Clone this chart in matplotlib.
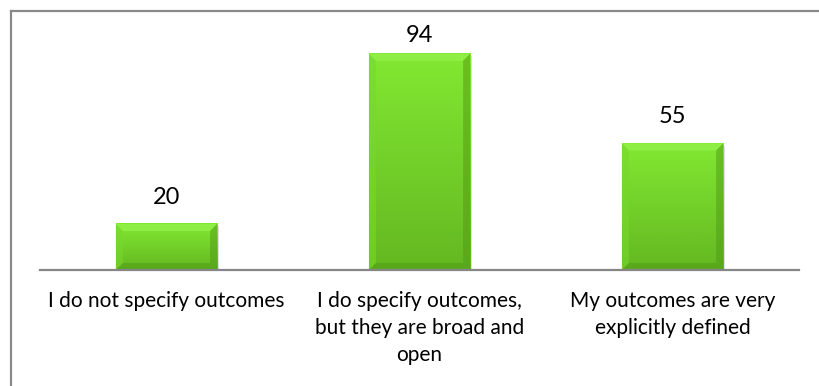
import numpy as np
import matplotlib
matplotlib.use("Agg")
from matplotlib import pyplot as plt
from matplotlib.patches import Polygon
from matplotlib.lines import Line2D
from matplotlib.colors import LinearSegmentedColormap

categories = [
    "I do not specify outcomes",
    "I do specify outcomes,\nbut they are broad and\nopen",
    "My outcomes are very\nexplicitly defined",
]
values = [20, 94, 55]

plt.rcParams['font.family'] = ['Lato', 'DejaVu Sans']

fig = plt.figure(figsize=(8.19, 3.86), dpi=100)
ax = fig.add_axes([40 / 819, 1 - 270 / 386, 759 / 819, 230 / 386])

x = np.arange(len(categories))
bars = ax.bar(x, values, width=0.4, color='#74d228', zorder=2)

ymax = 100
ax.set_xlim(-0.5, 2.5)
ax.set_ylim(0, ymax)

# pixel -> data scale for bevel size
px_x = 3.0 / 759
px_y = ymax / 230
bev = 7
sh = 2
cmap = LinearSegmentedColormap.from_list('g', ['#64b821', '#82e832'])

for b in bars:
    x0, w, h = b.get_x(), b.get_width(), b.get_height()
    x1, y1 = x0 + w, h
    bx, by = bev * px_x, bev * px_y
    # soft drop shadow
    ax.add_patch(Polygon([(x0 + sh * px_x, 0), (x1 + sh * px_x, 0),
                          (x1 + sh * px_x, y1 - sh * px_y),
                          (x0 + sh * px_x, y1 - sh * px_y)],
                         facecolor='#000000', alpha=0.12,
                         edgecolor='none', zorder=1.5))
    # vertical gradient on body
    grad = np.linspace(0, 1, 64).reshape(-1, 1)
    ax.imshow(grad, extent=(x0, x1, 0, y1), aspect='auto', origin='lower',
              cmap=cmap, zorder=2.1, interpolation='bilinear')
    # bevels
    ax.add_patch(Polygon([(x0, y1), (x1, y1), (x1 - bx, y1 - by), (x0 + bx, y1 - by)],
                         facecolor='#8fee44', edgecolor='none', zorder=2.2))
    ax.add_patch(Polygon([(x0, 0), (x0, y1), (x0 + bx, y1 - by), (x0 + bx, by)],
                         facecolor='#78d82c', edgecolor='none', alpha=0.6, zorder=2.2))
    ax.add_patch(Polygon([(x1, 0), (x1, y1), (x1 - bx, y1 - by), (x1 - bx, by)],
                         facecolor='#4f9a18', edgecolor='none', alpha=0.5, zorder=2.2))
    ax.add_patch(Polygon([(x0, 0), (x1, 0), (x1 - bx, by), (x0 + bx, by)],
                         facecolor='#4f9a18', edgecolor='none', alpha=0.5, zorder=2.2))
    # value label, pushed down when it would leave the plot area
    ly = min(h + 27 * px_y, ymax + 4 * px_y)
    ax.text(b.get_x() + w / 2, ly, f"{h:g}", ha='center', va='center',
            fontsize=17, color='#000000', clip_on=False)

for side in ['top', 'right', 'left']:
    ax.spines[side].set_visible(False)
ax.spines['bottom'].set_color('#868686')
ax.spines['bottom'].set_linewidth(1.6)
ax.spines['bottom'].set_zorder(3)
ax.set_yticks([])
ax.set_xticks(x)
ax.set_xticklabels(categories, fontsize=15, linespacing=1.45)
ax.tick_params(axis='x', length=0, pad=15)

# outer chart frame (only top and left edges visible)
fig.add_artist(Line2D([10.5 / 819, 10.5 / 819], [0, 1 - 11 / 386],
                      transform=fig.transFigure, color='#898989', lw=1.6))
fig.add_artist(Line2D([10.5 / 819, 1], [1 - 11 / 386, 1 - 11 / 386],
                      transform=fig.transFigure, color='#898989', lw=1.6))

fig.savefig('out.png', dpi=100)
